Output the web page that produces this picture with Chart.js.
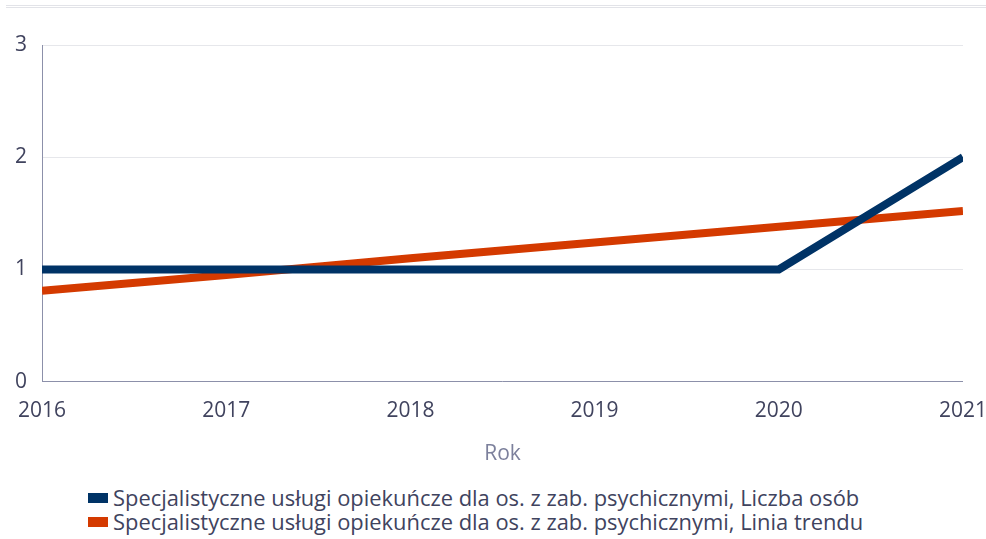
<!DOCTYPE html>
<html>
<head>
<meta charset="utf-8">
<script src="https://cdn.jsdelivr.net/npm/chart.js@4"></script>
<style>
  html, body { margin:0; padding:0; background:#fff; }
  #wrap { position:relative; width:986px; height:539px; overflow:hidden; font-family:"Open Sans", sans-serif; }
  .hl { position:absolute; left:6px; right:0; height:1px; background:#e2e3e8; }
  #legend { position:absolute; left:88px; top:486px; color:#40435e; font-size:21.9px; line-height:24px; }
  .item { display:flex; align-items:center; white-space:nowrap; }
  .box { width:20px; height:10px; margin-right:5px; }
</style>
</head>
<body>
<div id="wrap">
  <div class="hl" style="top:5px"></div>
  <div class="hl" style="top:7px"></div>
  <canvas id="c" width="1004" height="474" style="position:absolute;left:0;top:0;width:1004px;height:474px"></canvas>
  <div id="legend"></div>
</div>
<script>
const years = [2016, 2017, 2018, 2019, 2020, 2021];
const liczbaOsob = [1, 1, 1, 1, 1, 2];
const liniaTrendu = [0.81, 0.95, 1.1, 1.24, 1.38, 1.52];
const yTicks = [0, 1, 2, 3];
const seriesNames = [
  "Specjalistyczne usługi opiekuńcze dla os. z zab. psychicznymi, Liczba osób",
  "Specjalistyczne usługi opiekuńcze dla os. z zab. psychicznymi, Linia trendu"
];
const colors = ["#003366", "#d43a00"];

const toXY = arr => years.map((y, i) => ({x: y, y: arr[i]}));

new Chart(document.getElementById('c'), {
  type: 'line',
  data: {
    datasets: [
      { label: seriesNames[0], data: toXY(liczbaOsob), borderColor: colors[0], backgroundColor: colors[0], borderWidth: 8, pointRadius: 0, tension: 0, borderCapStyle: 'butt' },
      { label: seriesNames[1], data: toXY(liniaTrendu), borderColor: colors[1], backgroundColor: colors[1], borderWidth: 8, pointRadius: 0, tension: 0, borderCapStyle: 'butt' }
    ]
  },
  options: {
    responsive: false,
    animation: false,
    events: [],
    layout: { padding: { top: 45, right: 33, left: 0, bottom: 7 } },
    plugins: { legend: { display: false }, tooltip: { enabled: false } },
    scales: {
      x: {
        type: 'linear', min: years[0], max: years[years.length - 1],
        afterBuildTicks: s => { s.ticks = years.map(v => ({value: v})); },
        grid: { display: false, drawTicks: false },
        border: { display: true, color: '#8c90aa', width: 1 },
        ticks: { color: '#40435e', font: { family: 'Open Sans', size: 21 }, padding: 17, maxRotation: 0, autoSkip: false, callback: v => String(v) },
        title: { display: true, text: 'Rok', color: '#7c809c', font: { family: 'Open Sans', size: 21 }, padding: { top: 1, bottom: 0 } }
      },
      y: {
        min: 0, max: 3,
        afterBuildTicks: s => { s.ticks = yTicks.map(v => ({value: v})); },
        afterFit: s => { s.width = 42; },
        grid: { color: '#e6e7eb', drawTicks: false },
        border: { display: true, color: '#8c90aa', width: 1 },
        ticks: { color: '#40435e', font: { family: 'Open Sans', size: 21 }, padding: 15 }
      }
    }
  }
});

const lg = document.getElementById('legend');
seriesNames.forEach((n, i) => {
  const d = document.createElement('div');
  d.className = 'item';
  d.innerHTML = '<span class="box" style="background:' + colors[i] + '"></span><span>' + n + '</span>';
  lg.appendChild(d);
});
</script>
</body>
</html>
